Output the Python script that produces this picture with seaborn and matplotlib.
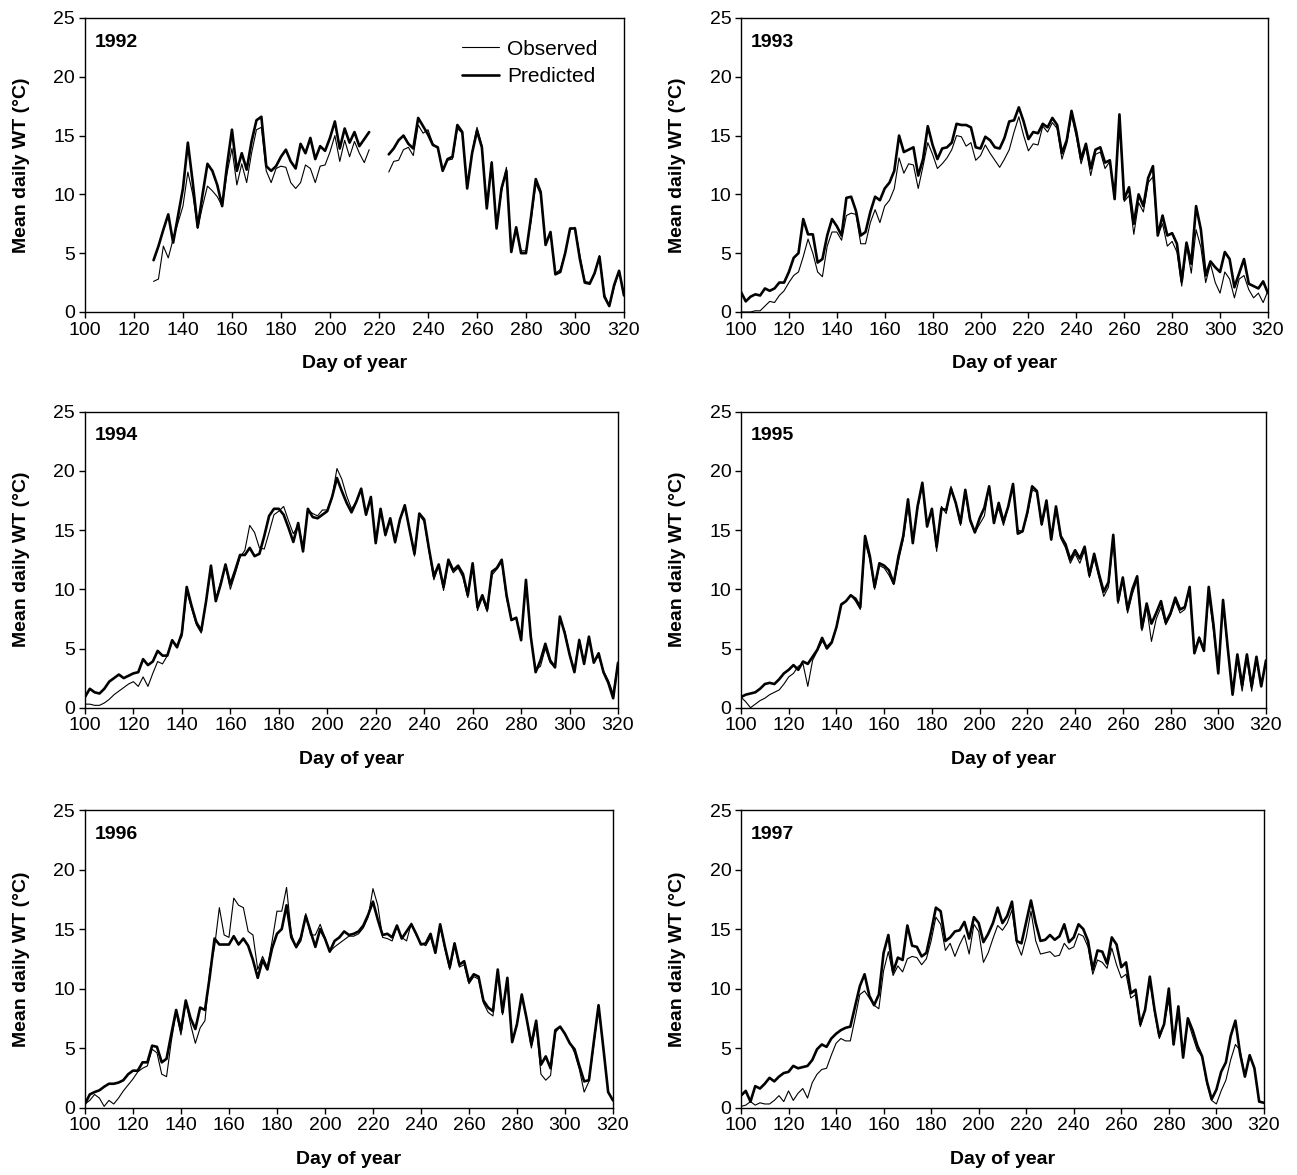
import numpy as np
import pandas as pd
import seaborn as sns
import matplotlib.pyplot as plt
from matplotlib.lines import Line2D

sns.set_theme(style="ticks")
plt.rcParams['font.family'] = ['Liberation Sans', 'DejaVu Sans']
plt.rcParams.update({"text.color": "black", "axes.labelcolor": "black",
                     "xtick.color": "black", "ytick.color": "black"})

nan = np.nan
# every second day of year, 100 .. 320
days = list(range(100, 321, 2))

pred_1992 = [
    nan, nan, nan, nan, nan, nan, nan, nan, nan, nan,
    nan, nan, nan, nan, 4.4, 5.6, 7.0, 8.3, 5.9, 8.2,
    10.5, 14.4, 11.0, 7.2, 10.0, 12.6, 12.0, 10.8, 9.0, 12.5,
    15.5, 12.0, 13.5, 12.1, 14.5, 16.3, 16.6, 12.4, 12.0, 12.4,
    13.2, 13.8, 12.8, 12.2, 14.3, 13.5, 14.8, 13.0, 14.1, 13.7,
    14.8, 16.2, 13.9, 15.6, 14.4, 15.3, 14.1, 14.7, 15.3, nan,
    nan, nan, 13.4, 13.9, 14.6, 15.0, 14.3, 13.9, 16.5, 15.8,
    15.1, 14.2, 14.0, 12.0, 13.0, 13.2, 15.9, 15.3, 10.5, 13.5,
    15.4, 14.0, 8.8, 12.7, 7.1, 10.5, 12.0, 5.1, 7.2, 5.0,
    5.0, 8.0, 11.3, 10.2, 5.7, 6.8, 3.2, 3.4, 5.0, 7.1,
    7.1, 4.5, 2.5, 2.4, 3.3, 4.7, 1.3, 0.5, 2.3, 3.5,
    1.4]
obs_1992 = [
    nan, nan, nan, nan, nan, nan, nan, nan, nan, nan,
    nan, nan, nan, nan, 2.6, 2.8, 5.6, 4.6, 6.2, 7.6,
    9.0, 11.9, 10.0, 7.1, 9.0, 10.7, 10.3, 9.8, 9.0, 11.8,
    13.9, 10.8, 12.6, 11.0, 13.5, 15.5, 15.7, 12.0, 11.0, 12.2,
    12.4, 12.3, 11.0, 10.5, 11.0, 12.5, 12.2, 11.0, 12.4, 12.5,
    13.6, 15.0, 12.8, 14.6, 13.2, 14.5, 13.5, 12.7, 13.8, nan,
    nan, nan, 11.9, 12.8, 12.9, 13.8, 14.0, 13.3, 15.9, 15.2,
    15.5, 14.3, 13.9, 12.0, 12.9, 13.0, 15.6, 15.2, 10.8, 13.6,
    15.7, 14.2, 9.0, 12.8, 7.2, 10.2, 12.3, 5.3, 7.0, 5.2,
    5.2, 7.6, 10.9, 10.0, 5.8, 6.8, 3.3, 3.6, 5.0, 7.0,
    7.2, 4.8, 2.6, 2.5, 3.2, 4.8, 1.5, 0.5, 2.1, 3.5,
    1.5]

pred_1993 = [
    1.7, 0.9, 1.3, 1.5, 1.4, 2.0, 1.8, 2.0, 2.5, 2.5,
    3.4, 4.6, 5.0, 7.9, 6.6, 6.6, 4.2, 4.5, 6.5, 7.9,
    7.3, 6.5, 9.7, 9.8, 8.6, 6.5, 6.8, 8.5, 9.8, 9.5,
    10.5, 11.0, 12.0, 15.0, 13.6, 13.8, 14.0, 11.6, 13.0, 15.8,
    14.2, 13.0, 13.9, 14.0, 14.4, 16.0, 15.9, 15.9, 15.7, 14.0,
    13.9, 14.9, 14.6, 14.0, 13.9, 14.8, 16.2, 16.3, 17.4, 16.2,
    14.7, 15.3, 15.2, 16.0, 15.7, 16.5, 15.9, 13.5, 14.6, 17.1,
    15.3, 13.0, 14.3, 12.2, 13.8, 14.0, 12.7, 12.9, 9.6, 16.8,
    9.6, 10.6, 7.5, 10.0, 9.0, 11.4, 12.4, 6.5, 8.2, 6.5,
    6.7, 5.8, 2.6, 5.9, 4.1, 9.0, 7.0, 3.1, 4.3, 3.8,
    3.4, 5.1, 4.5, 2.1, 3.3, 4.5, 2.4, 2.2, 2.0, 2.6,
    1.6]
obs_1993 = [
    0.0, 0.0, 0.0, 0.1, 0.1, 0.5, 0.9, 0.8, 1.4, 1.8,
    2.5, 3.1, 3.4, 4.7, 6.2, 5.0, 3.4, 3.0, 5.6, 6.8,
    6.8, 6.1, 8.2, 8.4, 8.3, 5.8, 5.8, 7.6, 8.7, 7.6,
    9.0, 9.5, 10.5, 13.1, 11.8, 12.6, 12.5, 10.5, 12.4, 14.4,
    13.4, 12.2, 12.6, 13.1, 13.8, 15.0, 14.9, 14.1, 14.4, 12.9,
    13.3, 14.2, 13.5, 12.9, 12.3, 13.0, 13.8, 15.3, 16.6, 15.0,
    13.7, 14.3, 14.2, 15.8, 15.3, 16.1, 15.6, 13.0, 14.3, 16.7,
    14.9, 12.6, 14.0, 11.6, 13.4, 13.6, 12.2, 12.8, 9.8, 16.6,
    9.4, 9.9, 6.6, 9.3, 8.5, 11.0, 11.5, 6.5, 7.5, 5.6,
    6.0, 5.1, 2.2, 5.6, 3.3, 7.0, 5.5, 2.5, 4.1, 2.5,
    1.6, 3.4, 2.8, 1.2, 2.8, 3.1, 1.9, 1.2, 1.6, 0.8,
    1.8]

pred_1994 = [
    0.9, 1.6, 1.3, 1.2, 1.6, 2.2, 2.5, 2.8, 2.5, 2.7,
    2.9, 3.0, 4.1, 3.6, 3.9, 4.8, 4.4, 4.4, 5.7, 5.1,
    6.3, 10.2, 8.6, 7.2, 6.5, 9.0, 12.0, 9.0, 10.4, 12.1,
    10.4, 11.6, 12.9, 12.9, 13.5, 12.8, 13.0, 14.5, 16.2, 16.8,
    16.8, 16.3, 15.2, 14.0, 15.6, 13.2, 16.8, 16.1, 16.0, 16.3,
    16.6, 17.8, 19.4, 18.3, 17.3, 16.5, 17.4, 18.5, 16.3, 17.8,
    13.9, 16.8, 14.6, 16.0, 14.0, 15.9, 17.1, 15.0, 13.0, 16.4,
    15.9, 13.4, 11.1, 12.1, 10.2, 12.5, 11.6, 12.0, 11.3, 9.5,
    12.2, 8.5, 9.5, 8.3, 11.5, 11.8, 12.5, 9.5, 7.4, 7.6,
    5.7, 10.8, 6.0, 3.0, 4.0, 5.4, 4.0, 3.4, 7.7, 6.3,
    4.5, 3.0, 5.7, 3.7, 6.0, 3.8, 4.6, 3.0, 2.1, 0.8,
    3.8]
obs_1994 = [
    0.3, 0.3, 0.2, 0.2, 0.4, 0.7, 1.1, 1.4, 1.7, 2.0,
    2.2, 1.8, 2.6, 1.8, 2.9, 3.9, 3.7, 4.4, 5.6, 5.3,
    6.0, 9.8, 8.4, 7.0, 6.3, 9.0, 11.6, 9.2, 10.6, 12.0,
    10.0, 11.3, 12.7, 13.3, 15.4, 14.8, 13.5, 13.4, 14.8, 16.3,
    16.6, 17.0, 15.8, 14.7, 15.4, 13.6, 16.7, 16.4, 16.2, 16.7,
    16.7, 17.8, 20.2, 19.3, 17.9, 16.8, 17.4, 18.4, 16.4, 17.8,
    14.0, 16.8, 14.5, 15.9, 13.9, 15.8, 17.0, 15.0, 12.8, 16.3,
    15.7, 13.2, 10.8, 12.0, 9.9, 12.3, 11.4, 11.8, 11.0, 9.3,
    12.0, 8.2, 9.3, 8.1, 11.2, 11.7, 12.3, 9.2, 7.5, 7.6,
    5.9, 10.5, 6.0, 3.2, 3.5, 5.0, 3.8, 3.4, 7.5, 6.5,
    4.6, 3.2, 5.8, 3.9, 5.8, 4.0, 4.3, 3.1, 2.3, 1.2,
    3.8]

pred_1995 = [
    0.9, 1.1, 1.2, 1.3, 1.6, 2.0, 2.1, 2.0, 2.4, 2.9,
    3.2, 3.6, 3.2, 3.9, 3.7, 4.3, 4.9, 5.9, 5.0, 5.5,
    6.8, 8.7, 9.0, 9.5, 9.2, 8.5, 14.5, 12.8, 10.2, 12.2,
    12.0, 11.6, 10.5, 12.8, 14.5, 17.6, 13.9, 17.0, 19.0, 15.3,
    16.8, 13.6, 16.8, 16.7, 18.5, 17.3, 15.6, 18.4, 15.9, 14.8,
    16.0, 16.9, 18.7, 15.6, 17.3, 15.7, 17.0, 18.9, 14.7, 14.9,
    16.5, 18.7, 18.3, 15.5, 17.5, 14.2, 17.0, 14.5, 13.8, 12.5,
    13.3, 12.6, 13.6, 11.2, 13.0, 11.3, 9.8, 10.6, 14.6, 9.0,
    11.0, 8.3, 10.0, 11.1, 6.7, 8.8, 7.1, 8.0, 9.0, 7.2,
    8.0, 9.3, 8.3, 8.5, 10.2, 4.6, 5.9, 4.8, 10.2, 7.0,
    2.9, 9.1, 5.0, 1.1, 4.5, 1.9, 4.5, 1.8, 4.3, 1.8,
    4.0]
obs_1995 = [
    0.9, 0.5, 0.0, 0.3, 0.6, 0.8, 1.1, 1.3, 1.5, 2.0,
    2.6, 2.9, 3.5, 3.7, 1.8, 4.0, 4.8, 5.6, 5.2, 5.6,
    6.8, 8.8, 9.0, 9.5, 9.0, 8.3, 14.0, 12.5, 10.0, 12.0,
    11.8, 11.2, 10.4, 12.4, 14.2, 17.0, 14.2, 16.8, 18.8, 15.6,
    16.6, 13.2, 17.0, 16.4, 18.7, 17.2, 15.4, 18.1, 15.7, 14.8,
    15.5, 16.2, 18.7, 16.0, 16.8, 15.4, 17.0, 18.7, 15.0, 14.9,
    16.3, 18.4, 18.2, 15.4, 17.2, 14.5, 16.8, 14.3, 13.5, 12.2,
    13.0, 12.2, 13.3, 11.0, 12.6, 11.0, 9.4, 10.2, 14.2, 8.8,
    10.8, 8.0, 9.6, 10.8, 6.5, 8.5, 5.6, 7.5, 8.5, 7.0,
    7.8, 9.0, 8.0, 8.3, 10.0, 4.8, 6.0, 5.0, 9.5, 6.5,
    3.0, 8.8, 4.8, 1.6, 4.0, 1.4, 4.2, 1.4, 4.0, 1.9,
    3.8]

pred_1996 = [
    0.3, 1.1, 1.3, 1.45, 1.75, 2.0, 2.0, 2.1, 2.3, 2.8,
    3.1, 3.1, 3.8, 3.8, 5.2, 5.1, 3.8, 4.1, 6.2, 8.2,
    6.5, 9.0, 7.5, 6.6, 8.4, 8.2, 11.0, 14.2, 13.7, 13.7,
    13.7, 14.4, 13.7, 14.2, 13.6, 12.4, 10.9, 12.4, 11.6, 13.4,
    14.6, 15.0, 17.0, 14.3, 13.5, 14.3, 16.1, 14.8, 13.5, 15.0,
    14.2, 13.1, 14.0, 14.3, 14.8, 14.5, 14.6, 14.8, 15.3, 16.2,
    17.3, 15.8, 14.5, 14.6, 14.3, 15.3, 14.2, 14.8, 15.4, 14.6,
    13.7, 13.8, 14.6, 13.0, 15.4, 13.5, 11.8, 13.8, 12.0, 12.3,
    10.6, 11.2, 11.0, 9.0, 8.4, 8.1, 11.6, 8.0, 10.9, 5.5,
    7.0, 9.5, 7.5, 5.3, 7.3, 3.6, 4.3, 3.3, 6.5, 6.8,
    6.2, 5.4, 4.9, 3.5, 2.2, 2.3, 5.5, 8.6, 5.0, 1.3,
    0.6]
obs_1996 = [
    0.3, 0.6, 1.1, 0.8, 0.1, 0.6, 0.3, 0.8, 1.4, 1.9,
    2.4, 3.0, 3.3, 3.5, 4.9, 4.6, 2.8, 2.6, 5.6, 8.0,
    6.1, 8.9, 7.0, 5.4, 6.7, 7.3, 11.5, 13.5, 16.8, 14.5,
    14.3, 17.6, 17.0, 16.8, 14.8, 14.5, 11.6, 12.7, 11.8, 14.0,
    16.5, 16.5, 18.5, 14.6, 13.4, 14.0, 16.3, 14.5, 14.5, 15.4,
    14.3, 13.1, 13.5, 13.8, 14.1, 14.4, 14.4, 14.6, 15.1, 16.0,
    18.4, 17.0, 14.3, 14.2, 14.0, 15.2, 14.3, 14.0, 15.5, 14.5,
    13.8, 13.6, 14.3, 13.0, 15.2, 13.3, 11.6, 13.6, 11.8, 12.0,
    10.4, 11.0, 10.8, 8.8, 8.0, 7.7, 11.3, 7.8, 10.8, 5.5,
    7.1, 9.3, 7.5, 5.0, 7.0, 2.8, 2.3, 2.7, 6.3, 6.8,
    6.1, 5.5, 4.6, 3.2, 1.3, 2.2, 5.2, 8.5, 5.0, 1.3,
    0.6]

pred_1997 = [
    1.0, 1.4, 0.5, 1.8, 1.6, 2.0, 2.5, 2.2, 2.6, 2.9,
    3.0, 3.5, 3.3, 3.4, 3.5, 4.0, 4.9, 5.3, 5.1, 5.8,
    6.2, 6.5, 6.7, 6.8, 8.5, 10.2, 11.2, 9.4, 8.6, 9.5,
    13.0, 14.5, 11.4, 12.6, 12.4, 15.3, 13.6, 13.5, 12.7, 13.0,
    14.8, 16.8, 16.5, 14.0, 14.3, 14.8, 14.9, 15.6, 14.2, 16.0,
    15.5, 13.9, 14.6, 15.5, 16.8, 15.5, 16.1, 17.3, 14.0, 13.8,
    15.6, 17.4, 15.5, 14.0, 14.1, 14.5, 14.1, 14.4, 15.4, 13.9,
    14.3, 15.4, 15.0, 14.0, 11.6, 13.2, 13.1, 12.1, 14.3, 13.7,
    11.8, 12.2, 9.6, 9.9, 7.0, 8.2, 11.0, 8.2, 6.0, 7.0,
    10.0, 5.3, 8.5, 4.2, 7.5, 6.5, 5.2, 4.3, 2.2, 0.7,
    1.5, 3.0, 3.8, 6.0, 7.3, 4.5, 2.6, 4.4, 3.3, 0.5,
    0.4]
obs_1997 = [
    0.1, 0.2, 0.5, 0.2, 0.4, 0.3, 0.3, 0.6, 1.0, 0.5,
    1.4, 0.6, 1.2, 1.6, 0.8, 2.1, 2.8, 3.2, 3.3, 4.4,
    5.4, 5.8, 5.6, 5.6, 7.5, 9.5, 9.8, 9.2, 8.6, 8.3,
    11.5, 13.1, 11.1, 11.9, 11.4, 12.5, 12.7, 12.6, 12.0, 12.5,
    14.0, 16.0, 15.4, 13.2, 13.8, 12.7, 13.7, 14.5, 12.9, 15.4,
    14.8, 12.2, 13.0, 14.2, 15.3, 14.9, 15.5, 16.6, 13.8, 12.8,
    14.3, 16.5, 14.0, 12.9, 13.0, 13.1, 12.7, 12.8, 13.8, 13.3,
    13.5, 14.6, 14.4, 13.5, 11.2, 12.4, 12.2, 11.7, 13.4, 12.0,
    10.9, 11.2, 9.2, 9.5, 6.8, 8.2, 10.6, 8.0, 5.8, 7.0,
    9.0, 5.3, 8.2, 4.2, 7.3, 6.0, 4.8, 4.3, 2.0, 0.6,
    0.3, 1.4, 2.3, 4.0, 5.3, 4.8, 2.6, 4.4, 3.3, 0.5,
    0.4]

# panel boxes in figure fractions (left, bottom, width, height)
panels = [
    ("1992", obs_1992, pred_1992, [0.0655, 0.7345, 0.4156, 0.2502]),
    ("1993", obs_1993, pred_1993, [0.5713, 0.7345, 0.4063, 0.2502]),
    ("1994", obs_1994, pred_1994, [0.0655, 0.3977, 0.4110, 0.2519]),
    ("1995", obs_1995, pred_1995, [0.5713, 0.3977, 0.4048, 0.2519]),
    ("1996", obs_1996, pred_1996, [0.0655, 0.0574, 0.4071, 0.2532]),
    ("1997", obs_1997, pred_1997, [0.5713, 0.0574, 0.4032, 0.2532]),
]

FS = 14


def draw(ax, df, col, lw):
    # break the line where there is no data
    ok = df[col].notna()
    runs = (ok != ok.shift()).cumsum()
    for _, part in df[ok].groupby(runs[ok]):
        sns.lineplot(data=part, x="day", y=col, ax=ax, color="black",
                     lw=lw, estimator=None, sort=False)


fig = plt.figure(figsize=(12.97, 11.75), dpi=100)
for year, obs, pred, rect in panels:
    ax = fig.add_axes(rect)
    df = pd.DataFrame({"day": days, "Observed": obs, "Predicted": pred})
    draw(ax, df, "Observed", 0.8)
    draw(ax, df, "Predicted", 1.9)

    ax.set_xlim(100, 320)
    ax.set_ylim(0, 25)
    ax.set_xticks(range(100, 321, 20))
    ax.set_yticks(range(0, 26, 5))
    ax.tick_params(labelsize=FS, length=4, width=1, color="black", pad=3)
    for sp in ax.spines.values():
        sp.set_color("black")
        sp.set_linewidth(1.0)
    ax.set_xlabel("Day of year", fontsize=FS, fontweight="bold", labelpad=12)
    ax.set_ylabel("Mean daily WT (°C)", fontsize=FS, fontweight="bold", labelpad=17)
    ax.text(0.019, 0.918, year, transform=ax.transAxes, fontsize=FS,
            fontweight="bold", va="center", ha="left")

    if year == "1992":
        handles = [Line2D([], [], color="black", lw=0.8),
                   Line2D([], [], color="black", lw=1.9)]
        ax.legend(handles, ["Observed", "Predicted"], loc="upper right",
                  bbox_to_anchor=(0.985, 0.99), frameon=False, fontsize=15,
                  handlelength=1.8, handletextpad=0.35, labelspacing=0.4)
    elif ax.get_legend() is not None:
        ax.get_legend().remove()

fig.savefig("out.png", dpi=100)
